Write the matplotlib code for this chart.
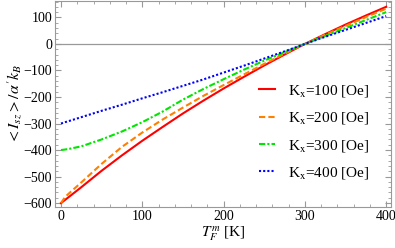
import matplotlib
matplotlib.use("Agg")
import matplotlib.pyplot as plt
from matplotlib.ticker import MultipleLocator

plt.rcParams['font.family'] = ['Liberation Serif', 'DejaVu Serif']
plt.rcParams['mathtext.fontset'] = 'stix'

# temperature grid [K]
T = [0, 5, 12.5, 25, 50, 75, 100, 125, 150, 175, 200, 225, 250, 275, 300, 325, 350, 375, 400]

# <I_sz>/alpha' k_B for each K_x
k100 = [-600, -588, -570, -540, -478, -420, -365, -313, -262, -214, -168, -124, -81, -40, 0, 37, 73, 107, 140]
k200 = [-600, -577, -556, -522, -452, -388, -334, -285, -240, -196, -155, -115, -75, -37, 0, 35, 68, 101, 133]
k300 = [-400, -398, -394, -386, -360, -330, -295, -255, -210, -170, -133, -97, -63, -31, 0, 30, 60, 90, 120]
k400 = [-300, -295, -288, -276, -252, -229, -205, -182, -158, -134, -108, -82, -55, -28, 0, 27, 53, 79, 105]

labels = ['K$_{\\mathrm{x}}$=100 [Oe]', 'K$_{\\mathrm{x}}$=200 [Oe]',
          'K$_{\\mathrm{x}}$=300 [Oe]', 'K$_{\\mathrm{x}}$=400 [Oe]']

fig = plt.figure(figsize=(3.95, 2.48), dpi=100)
ax = fig.add_axes([0.139, 0.165, 0.851, 0.83])

ax.axhline(0, color='#999999', lw=0.9)
ax.plot(T, k100, color='#ff0000', lw=1.5, label=labels[0])
ax.plot(T, k200, color='#ff8000', lw=1.5, ls=(0, (3, 1.5)), label=labels[1])
ax.plot(T, k300, color='#00e600', lw=1.5, ls=(0, (3, 1, 1, 1)), label=labels[2])
ax.plot(T, k400, color='#0000ff', lw=1.5, ls=(0, (1, 1)), label=labels[3])

ax.set_xlim(-7.5, 406)
ax.set_ylim(-615, 161)
ax.xaxis.set_major_locator(MultipleLocator(100))
ax.xaxis.set_minor_locator(MultipleLocator(20))
ax.yaxis.set_major_locator(MultipleLocator(100))
ax.yaxis.set_minor_locator(MultipleLocator(20))
ax.tick_params(which='both', direction='in', top=True, right=True,
               color='#999999', labelsize=10, pad=2)
ax.tick_params(which='major', length=4)
ax.tick_params(which='minor', length=2)
for s in ax.spines.values():
    s.set_color('#999999')

ax.set_xlabel('$T_F^m$ [K]', fontsize=11, labelpad=1)
ax.set_ylabel("$<I_{sz}>/\\alpha' k_B$", fontsize=11.5, labelpad=0)

ax.legend(loc='upper left', bbox_to_anchor=(0.565, 0.67), frameon=False,
          fontsize=11, handlelength=1.1, handletextpad=0.8, labelspacing=0.75)

fig.savefig('out.png', dpi=100)
